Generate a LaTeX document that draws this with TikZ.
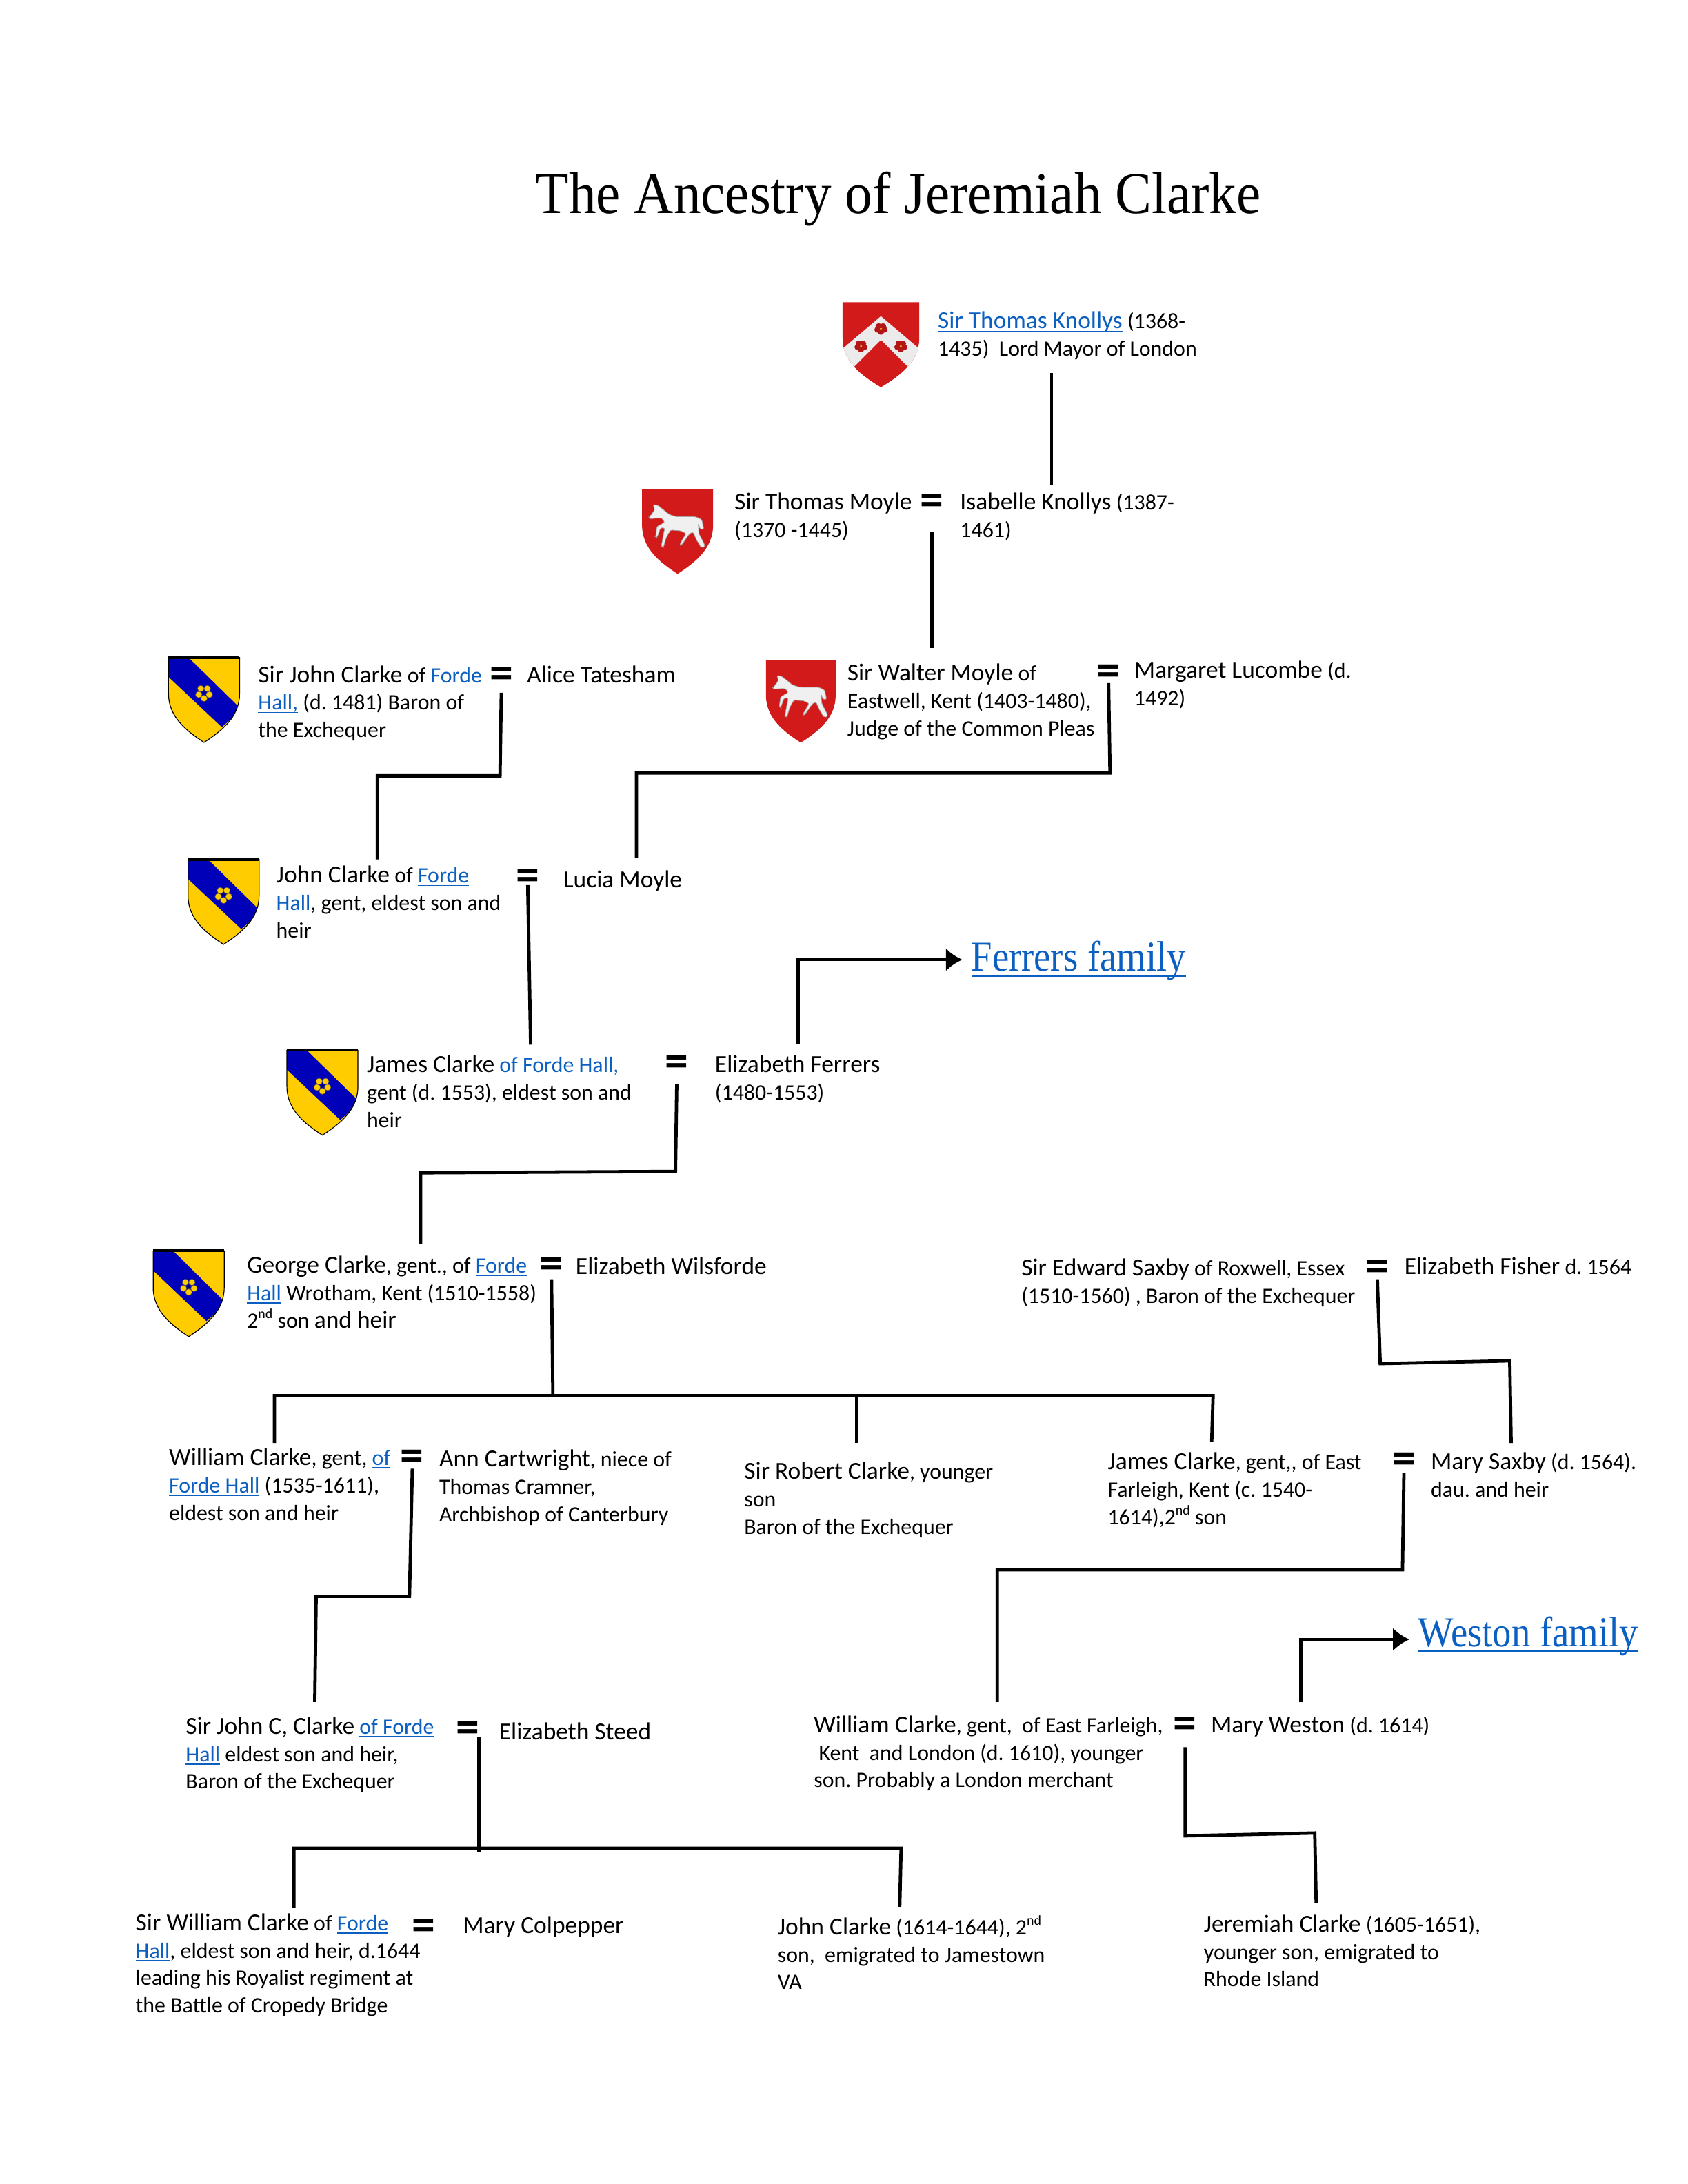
\documentclass[tikz,border=0pt]{standalone}
\usepackage{fontspec}
\setmainfont{Carlito}
\newfontfamily\headfont[FakeStretch=0.925]{Liberation Serif}
\newfontfamily\linkfont[FakeStretch=0.885]{Liberation Serif}
\usetikzlibrary{arrows.meta}
\definecolor{linkblue}{HTML}{0A5FC0}
\definecolor{armsred}{HTML}{D21A1A}
\definecolor{armsgold}{HTML}{FFCC00}
\definecolor{armsblue}{HTML}{0000B8}
\frenchspacing
\newcommand{\nm}[1]{{\fontsize{8.9}{10}\selectfont #1}}
\newcommand{\lk}[1]{\textcolor{linkblue}{\setbox0\hbox{#1}\rlap{\rule[-.14em]{\wd0}{.05em}}\box0}}
\newcommand{\ls}[1]{\begin{tabular}[t]{@{}l@{}}#1\end{tabular}}
\newcommand{\sps}[1]{\raisebox{.42em}{\fontsize{5}{5}\selectfont #1}}
\tikzset{
  person/.style={anchor=base west,inner sep=0pt,font=\fontsize{8}{9.98}\selectfont},
  eq/.style={anchor=base,inner sep=0pt,font=\fontsize{17}{17}\bfseries\selectfont},
  branch/.style={fill=none,line width=1.2pt,line join=miter},
  arrow/.style={branch,-{Latex[length=6pt,width=8.5pt]}},
  family/.style={anchor=base west,inner sep=0pt,font=\fontsize{15.5}{18}\linkfont\selectfont},
  shieldpath/.style={insert path={(0,0) -- (50,0) -- (50,26) .. controls (50,43) and (37,53) .. (25,61) .. controls (13,53) and (0,43) .. (0,26) -- cycle}},
  clarkearms/.pic={
    \fill[armsgold,shieldpath];
    \begin{scope}
      \clip[shieldpath];
      \fill[armsblue] (0,0) -- (14,0) -- (50,36) -- (50,39) -- (37.5,50) -- (0,14) -- cycle;
    \end{scope}
    \foreach \a in {90,162,234,306,18}
      \fill[armsgold,draw=black!70,line width=.15pt] (25,25.5) ++(\a:3.9) circle (2.3);
    \fill[armsblue!60!black] (25,25.5) circle (1);
    \draw[black,line width=.3pt,shieldpath];
    \draw[black,line width=1pt] (0,0) -- (50,0);
  },
  knollysarms/.pic={
    \fill[armsred,shieldpath];
    \begin{scope}
      \clip[shieldpath];
      \fill[black!8] (25,10) -- (55,38) -- (55,60) -- (25,27) -- (-5,60) -- (-5,38) -- cycle;
    \end{scope}
    \foreach \x/\y in {25/19,12/31.5,38/31.5} {
      \foreach \a in {90,162,234,306,18}
        \fill[armsred!85!black] (\x,\y) ++(\a:2.3) circle (2.1);
      \fill[armsgold] (\x,\y) circle (.7);
    }
  },
  moylearms/.pic={
    \fill[armsred,shieldpath];
    \filldraw[fill=black!6,draw=black!35,line width=.2pt,rounded corners=.6] (7.7,11.2) -- (11,11.7) -- (19.2,18.4) -- (24.2,20) -- (37.7,20) -- (42,22) -- (43.5,29) -- (41,29) -- (39.5,25) -- (40,32) -- (44,40) -- (44,42) -- (41.5,42) -- (38,36) -- (36,31) -- (33.5,32) -- (28,40) -- (26.5,41) -- (27,39) -- (31,32) -- (27,30) -- (20,29.5) -- (17,35) -- (15,42) -- (13.5,41.5) -- (15,33) -- (16,28) -- (13,28) -- (10.5,35) -- (9.5,34.5) -- (10.5,27) -- (16,24) -- (14,21) -- (10,21) -- (5.5,21.5) -- (5,20.5) -- (9,15) -- cycle;
  }
}

\begin{document}
\begin{tikzpicture}[x=0.50495bp,y=-0.5051bp]
  \useasboundingbox (0,0) rectangle (1212,1568);

  \node[anchor=base,inner sep=0pt,font=\fontsize{21.5}{24}\headfont\selectfont] (title) at (645,153) {The Ancestry of Jeremiah Clarke};

  % arms
  \pic[xscale=1.1] (armsTK) at (605,217) {knollysarms};
  \pic[xscale=1.02,yscale=1.0] (armsTM) at (461,351) {moylearms};
  \pic[yscale=.97] (armsWM) at (550,474) {moylearms};
  \pic[xscale=1.02] (armsSJC) at (121,472) {clarkearms};
  \pic[xscale=1.02] (armsJC) at (135,617) {clarkearms};
  \pic[xscale=1.02] (armsJCF) at (206,754) {clarkearms};
  \pic[xscale=1.02,yscale=1.01] (armsGC) at (110,898) {clarkearms};

  % people
  \node[person] (TK) at (673,236) {\ls{\lk{\nm{Sir Thomas Knollys}} (1368-\\1435)\ \ Lord Mayor of London}};
  \node[person] (TM) at (527,366) {\ls{\nm{Sir Thomas Moyle}\\(1370 -1445)}};
  \node[person] (IK) at (689,366) {\ls{\nm{Isabelle Knollys} (1387-\\1461)}};
  \node[person] (SJC) at (185,490) {\ls{\nm{Sir John Clarke} of \lk{Forde}\\\lk{Hall,} (d. 1481) Baron of\\the Exchequer}};
  \node[person] (AT) at (378,490) {\nm{Alice Tatesham}};
  \node[person] (WM) at (608,489) {\ls{\nm{Sir Walter Moyle} of\\Eastwell, Kent (1403-1480),\\Judge of the Common Pleas}};
  \node[person] (ML) at (814,487) {\ls{\nm{Margaret Lucombe} (d.\\1492)}};
  \node[person] (JC) at (198,634) {\ls{\nm{John Clarke} of \lk{Forde}\\\lk{Hall}, gent, eldest son and\\heir}};
  \node[person] (LM) at (404,637) {\nm{Lucia Moyle}};
  \node[person] (JCF) at (263,770) {\ls{\nm{James Clarke} \lk{of Forde Hall,}\\gent (d. 1553), eldest son and\\heir}};
  \node[person] (EF) at (513,770) {\ls{\nm{Elizabeth Ferrers}\\(1480-1553)}};
  \node[person] (GC) at (177,914) {\ls{\nm{George Clarke}, gent., of \lk{Forde}\\\lk{Hall} Wrotham, Kent (1510-1558)\\2\sps{nd} son \nm{and heir}}};
  \node[person] (EW) at (413,915) {\nm{Elizabeth Wilsforde}};
  \node[person] (ES) at (733,916) {\ls{\nm{Sir Edward Saxby} of Roxwell, Essex\\(1510-1560) , Baron of the Exchequer}};
  \node[person] (EFi) at (1008,915) {\nm{Elizabeth Fisher} d. 1564};
  \node[person] (WC) at (121,1052) {\ls{\nm{William Clarke}, gent, \lk{of}\\\lk{Forde Hall} (1535-1611),\\eldest son and heir}};
  \node[person] (AC) at (315,1053) {\ls{\nm{Ann Cartwright}, niece of\\Thomas Cramner,\\Archbishop of Canterbury}};
  \node[person] (RC) at (534,1062) {\ls{\nm{Sir Robert Clarke}, younger\\son\\Baron of the Exchequer}};
  \node[person] (JCE) at (795,1055) {\ls{\nm{James Clarke}, gent,{}, of East\\Farleigh, Kent (c. 1540-\\1614),2\sps{nd} son}};
  \node[person] (MS) at (1027,1055) {\ls{\nm{Mary Saxby} (d. 1564).\\dau. and heir}};
  \node[person] (JCC) at (133,1245) {\ls{\nm{Sir John C, Clarke} \lk{of Forde}\\\lk{Hall} eldest son and heir,\\Baron of the Exchequer}};
  \node[person] (ESt) at (358,1249) {\nm{Elizabeth Steed}};
  \node[person] (WCE) at (584,1244) {\ls{\nm{William Clarke}, gent,\ \ of East Farleigh,\\\ Kent\ \ and London (d. 1610), younger\\son. Probably a London merchant}};
  \node[person] (MW) at (869,1244) {\nm{Mary Weston} (d. 1614)};
  \node[person] (SWC) at (97,1386) {\ls{\nm{Sir William Clarke} of \lk{Forde}\\\lk{Hall}, eldest son and heir, d.1644\\leading his Royalist regiment at\\the Battle of Cropedy Bridge}};
  \node[person] (MC) at (332,1388) {\nm{Mary Colpepper}};
  \node[person] (JCV) at (558,1389) {\ls{\nm{John Clarke} (1614-1644), 2\sps{nd}\\son,\ \ emigrated to Jamestown\\VA}};
  \node[person] (JER) at (864,1387) {\ls{\nm{Jeremiah Clarke} (1605-1651),\\younger son, emigrated to\\Rhode Island}};

  \node[family] (FF) at (697,697) {\lk{Ferrers family}};
  \node[family] (WF) at (1018,1182) {\lk{Weston family}};

  % marriages
  \node[eq] (eqTM) at (669,370) {=};
  \node[eq] (eqSJC) at (360,494) {=};
  \node[eq] (eqWM) at (796,492) {=};
  \node[eq] (eqJC) at (379,639) {=};
  \node[eq] (eqJCF) at (486,773) {=};
  \node[eq] (eqGC) at (396,918) {=};
  \node[eq] (eqES) at (989,920) {=};
  \node[eq] (eqWC) at (296,1056) {=};
  \node[eq] (eqJCE) at (1008,1058) {=};
  \node[eq] (eqJCC) at (336,1251) {=};
  \node[eq] (eqWCE) at (851,1248) {=};
  \node[eq] (eqSWC) at (304,1393) {=};

  % turning points and free ends
  \coordinate (tk0) at (755,268);
  \coordinate (tk1) at (755,348);
  \coordinate (tm1) at (669,465);
  \coordinate (sj1) at (359,557);
  \coordinate (sj2) at (271,557);
  \coordinate (sj3) at (271,617);
  \coordinate (wm1) at (797,555);
  \coordinate (wm2) at (457,555);
  \coordinate (wm3) at (457,616);
  \coordinate (jc1) at (381,750);
  \coordinate (ef0) at (573,750);
  \coordinate (ef1) at (573,689);
  \coordinate (ef2) at (691,689);
  \coordinate (jf1) at (485,841);
  \coordinate (jf2) at (302,842);
  \coordinate (jf3) at (302,893);
  \coordinate (gc1) at (397,1002);
  \coordinate (bar1) at (197,1002);
  \coordinate (bar2) at (871,1002);
  \coordinate (sonW) at (197,1036);
  \coordinate (topR) at (615,1002);
  \coordinate (sonR) at (615,1036);
  \coordinate (sonJ) at (870,1035);
  \coordinate (es1) at (991,979);
  \coordinate (es2) at (1084,977);
  \coordinate (es3) at (1085,1036);
  \coordinate (wc1) at (294,1146);
  \coordinate (wc2) at (227,1146);
  \coordinate (wc3) at (226,1222);
  \coordinate (je1) at (1007,1127);
  \coordinate (je2) at (716,1127);
  \coordinate (je3) at (716,1222);
  \coordinate (mw0) at (934,1222);
  \coordinate (mw1) at (934,1177);
  \coordinate (mw2) at (1012,1177);
  \coordinate (jj1) at (344,1330);
  \coordinate (bar3) at (211,1327);
  \coordinate (bar4) at (647,1327);
  \coordinate (sonS) at (211,1370);
  \coordinate (sonC) at (646,1369);
  \coordinate (we1) at (851,1318);
  \coordinate (we2) at (944,1316);
  \coordinate (we3) at (945,1366);

  % descent
  \draw[branch] (tk0) -- (tk1);
  \draw[branch,shorten <=5.6pt] (eqTM.south) -- (tm1);
  \draw[branch,shorten <=1.5pt] (eqSJC.south) -- (sj1) -- (sj2) -- (sj3);
  \draw[branch,shorten <=-1pt] (eqWM.south) -- (wm1) -- (wm2) -- (wm3);
  \draw[branch,shorten <=-2pt] (eqJC.south) -- (jc1);
  \draw[arrow] (ef0) -- (ef1) -- (ef2);
  \draw[branch,shorten <=2.5pt] (eqJCF.south) -- (jf1) -- (jf2) -- (jf3);
  \draw[branch] (eqGC.south) -- (gc1);
  \draw[branch] (sonW) -- (bar1) -- (bar2) -- (sonJ);
  \draw[branch] (topR) -- (sonR);
  \draw[branch,shorten <=-1pt] (eqES.south) -- (es1) -- (es2) -- (es3);
  \draw[branch,shorten <=-1pt] (eqWC.south) -- (wc1) -- (wc2) -- (wc3);
  \draw[branch,shorten <=-.5pt] (eqJCE.south) -- (je1) -- (je2) -- (je3);
  \draw[arrow] (mw0) -- (mw1) -- (mw2);
  \draw[branch,shorten <=-2pt] (eqJCC.south -| jj1) -- (jj1);
  \draw[branch] (sonS) -- (bar3) -- (bar4) -- (sonC);
  \draw[branch,shorten <=3pt] (eqWCE.south) -- (we1) -- (we2) -- (we3);

\end{tikzpicture}
\end{document}
